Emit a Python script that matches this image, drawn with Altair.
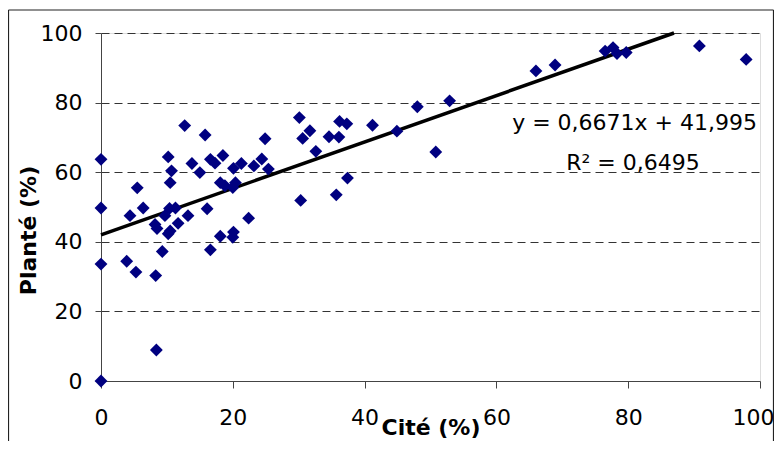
import altair as alt
import pandas as pd

# Data
cite = [0, 0, 0, 0, 3.9, 4.4, 5.3, 5.5, 6.4, 8.2, 8.5, 8.3, 8.4, 9.3, 9.7, 10.2,
        10.5, 10.2, 10.4, 10.5, 10.7, 11.3, 11.7, 12.7, 13.2, 13.8, 15.0, 15.8,
        16.1, 16.6, 16.6, 17.3, 18.1, 18.1, 18.5, 18.8, 20.0, 20.1, 20.1, 20.0,
        20.4, 21.3, 22.4, 23.2, 24.4, 24.9, 25.4, 30.1, 30.3, 30.6, 31.7, 32.6,
        34.6, 35.7, 36.1, 36.2, 37.3, 37.4, 41.2, 44.9, 48.0, 50.8, 52.9, 66.0,
        68.9, 76.5, 77.7, 78.3, 79.7, 90.8, 97.9]
plante = [63.7, 49.7, 33.6, 0, 34.4, 47.5, 31.3, 55.5, 49.7, 45.0, 43.8, 30.3,
          8.9, 37.2, 47.5, 64.4, 43.1, 42.3, 49.6, 57.0, 60.4, 49.7, 45.3, 73.4,
          47.5, 62.5, 59.9, 70.7, 49.5, 63.7, 37.7, 62.6, 57.0, 41.6, 64.8, 56.1,
          55.6, 61.1, 42.8, 41.3, 57.0, 62.5, 46.8, 61.8, 63.8, 69.6, 60.9, 75.7,
          51.9, 69.7, 71.9, 66.0, 70.2, 53.5, 70.1, 74.6, 73.9, 58.3, 73.5, 71.8,
          78.8, 65.8, 80.5, 89.1, 90.8, 94.8, 95.8, 94.1, 94.4, 96.3, 92.4]

# Trendline coefficients as printed on the chart
slope = 0.6671
intercept = 41.995
r2_text = "R\u00b2 = 0,6495"
eq_text = "y = 0,6671x + 41,995"

x_ticks = [0, 20, 40, 60, 80, 100]
y_ticks = [0, 20, 40, 60, 80, 100]

FONT = "DejaVu Sans"

df = pd.DataFrame({"cite": cite, "plante": plante})

x_end = (100 - intercept) / slope
trend = pd.DataFrame({"cite": [0, x_end], "plante": [intercept, slope * x_end + intercept]})

x_scale = alt.Scale(domain=[0, 100], nice=False, zero=False)
y_scale = alt.Scale(domain=[0, 100], nice=False, zero=False)

x_axis = alt.Axis(values=x_ticks, grid=False, title="Cité (%)", labelFontSize=22,
                  labelFont=FONT, labelColor="#000", titleFont=FONT, titleFontSize=22,
                  titleFontWeight="bold", titleColor="#000", tickSize=7, labelPadding=29,
                  labelBaseline="middle", titleY=46, titleBaseline="middle",
                  labelOffset={"expr": "datum.value == 100 ? -7 : 0"},
                  domainColor="#444", tickColor="#444", labelFlush=False)
y_axis = alt.Axis(values=y_ticks, grid=True, gridDash=[8, 5], gridColor="#333",
                  title="Planté (%)", labelFontSize=22, labelFont=FONT, labelColor="#000",
                  titleFont=FONT, titleFontSize=22, titleFontWeight="bold", titleColor="#000",
                  tickSize=6, labelPadding=13, titleX=-73, titleY=197,
                  titleBaseline="middle", titleAngle=-90, titleAlign="center",
                  domainColor="#444", tickColor="#444", labelFlush=False)

points = alt.Chart(df).mark_point(shape="diamond", filled=True, size=165,
                                  color="#000080", opacity=1).encode(
    x=alt.X("cite:Q", scale=x_scale, axis=x_axis),
    y=alt.Y("plante:Q", scale=y_scale, axis=y_axis),
)

line = alt.Chart(trend).mark_line(color="#000", strokeWidth=3.5).encode(
    x=alt.X("cite:Q", scale=x_scale),
    y=alt.Y("plante:Q", scale=y_scale),
)

labels = pd.DataFrame({"t": [eq_text]})
eq = alt.Chart(labels).mark_text(font=FONT, fontSize=22, align="right",
                                 baseline="alphabetic", color="#000").encode(
    x=alt.value(656), y=alt.value(97), text="t:N")
r2 = alt.Chart(pd.DataFrame({"t": [r2_text]})).mark_text(
    font=FONT, fontSize=22, align="center", baseline="alphabetic", color="#000").encode(
    x=alt.value(532), y=alt.value(137), text="t:N")

# decorative chart border (left, top, right)
one = pd.DataFrame({"a": [0]})
border_left = alt.Chart(one).mark_rule(color="#222", strokeWidth=1.2).encode(
    x=alt.value(-92.5), y=alt.value(-23), y2=alt.value(420))
border_top = alt.Chart(one).mark_rule(color="#222", strokeWidth=1.2).encode(
    x=alt.value(-92.5), x2=alt.value(672.5), y=alt.value(-23))
border_right = alt.Chart(one).mark_rule(color="#222", strokeWidth=1.2).encode(
    x=alt.value(672.5), y=alt.value(-23), y2=alt.value(420))

chart = alt.layer(border_left, border_top, border_right, line, points, eq, r2).properties(
    width=659, height=348,
    autosize=alt.AutoSizeParams(type="none"),
    padding={"left": 93, "top": 25, "right": 14, "bottom": 60},
).configure_view(stroke=None).configure(background="white")

chart.save("out.html", embed_options={"renderer": "svg", "actions": False})
